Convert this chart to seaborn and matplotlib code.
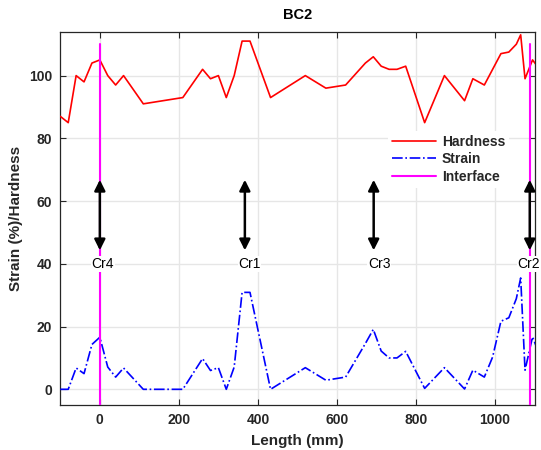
import numpy as np
import pandas as pd
import matplotlib
matplotlib.use("Agg")
import matplotlib.pyplot as plt
import seaborn as sns

# ---- data ----
length_mm = [-100, -80, -60, -40, -20, 0, 20, 40, 60, 110, 210, 260, 280, 300, 320,
             340, 360, 380, 432, 520, 572, 622, 672, 692, 712, 732, 752, 774, 822,
             872, 923, 944, 973, 994, 1015, 1035, 1054, 1065, 1076, 1095, 1110]
hardness = [87, 85, 100, 98, 104, 105, 100, 97, 100, 91, 93, 102, 99, 100, 93,
            100, 111, 111, 93, 100, 96, 97, 104, 106, 103, 102, 102, 103, 85,
            100, 92, 99, 97, 102, 107, 107.5, 110, 113, 99, 105, 102.5]
strain = [0, 0, 6.8, 5, 14.3, 16.6, 7.1, 3.9, 6.8, 0, 0, 9.8, 6, 6.9, 0,
          7.1, 30.9, 30.9, 0, 6.9, 2.9, 3.9, 14.6, 19.1, 12.2, 10, 10, 12.1, 0.3,
          6.9, 0.1, 6.1, 3.9, 10.3, 21.7, 22.8, 28.9, 35.5, 6.1, 16.7, 11.9]
interface_x = [0, 1089]
interface_y = [-5, 110]
crack_labels = ["Cr4", "Cr1", "Cr3", "Cr2"]
crack_x = [0, 367, 693, 1088]
crack_label_x = [7, 379, 707, 1086]
arrow_y = [44.3, 66.8]
label_y = 40
x_ticks = [0, 200, 400, 600, 800, 1000]
y_ticks = [0, 20, 40, 60, 80, 100]

df = pd.DataFrame({"Length": length_mm, "Hardness": hardness, "Strain": strain})

sns.set_theme(style="whitegrid")
plt.rcParams["font.family"] = ["Liberation Sans", "DejaVu Sans"]
plt.rcParams["font.weight"] = "bold"

fig = plt.figure(figsize=(5.41, 4.5), dpi=100)
ax = fig.add_axes([0.1115, 0.1, 0.8765, 0.8296])
ax.set_facecolor("white")

sns.lineplot(data=df, x="Length", y="Hardness", ax=ax, color="#FF0000", lw=1.2,
             label="Hardness", sort=False, zorder=3)
sns.lineplot(data=df, x="Length", y="Strain", ax=ax, color="#0000FF", lw=1.2,
             linestyle="-.", label="Strain", sort=False, zorder=3)
for i, xi in enumerate(interface_x):
    ax.plot([xi, xi], interface_y, color="#FF00FF", lw=1.5, zorder=4,
            label="Interface" if i == 0 else None)

for lab, cx, lx in zip(crack_labels, crack_x, crack_label_x):
    ax.annotate("", xy=(cx, arrow_y[0]), xytext=(cx, arrow_y[1]),
                arrowprops=dict(arrowstyle="<|-|>", color="black", lw=1.8,
                                mutation_scale=16, shrinkA=0, shrinkB=0),
                zorder=5)
    ax.text(lx, label_y, lab, ha="center", va="center", fontsize=10,
            fontweight="normal", color="black", zorder=6, clip_on=False,
            bbox=dict(facecolor="white", edgecolor="none", pad=0.5))

ax.set_xlim(-100, 1100)
ax.set_ylim(-5, 114)
ax.set_xticks(x_ticks)
ax.set_yticks(y_ticks)
ax.grid(True, color="#E6E6E6", lw=1)
ax.set_axisbelow(True)
for s in ax.spines.values():
    s.set_visible(True)
    s.set_color("#262626")
    s.set_linewidth(0.9)
ax.tick_params(axis="both", which="both", direction="in", length=4, width=0.8,
               color="#262626", top=True, right=True, bottom=True, left=True,
               labelsize=10, labelcolor="#262626", pad=6)
for t in ax.get_xticklabels() + ax.get_yticklabels():
    t.set_fontweight("bold")

ax.set_xlabel("Length (mm)", fontsize=11, fontweight="bold", color="#262626", labelpad=5)
ax.set_ylabel("Strain (%)/Hardness", fontsize=11, fontweight="bold", color="#262626", labelpad=4)
ax.set_title("BC2", fontsize=10.5, fontweight="bold", color="#000000", pad=9)

leg = ax.legend(loc="upper left", bbox_to_anchor=(0.69, 0.735), frameon=True,
                facecolor="white", edgecolor="none", framealpha=1, fontsize=10,
                handlelength=3.2, handletextpad=0.4, labelspacing=0.25,
                borderpad=0.3, borderaxespad=0, fancybox=False)
for t in leg.get_texts():
    t.set_fontweight("bold")
    t.set_color("#262626")
leg.set_zorder(7)

fig.savefig("out.png", dpi=100)
